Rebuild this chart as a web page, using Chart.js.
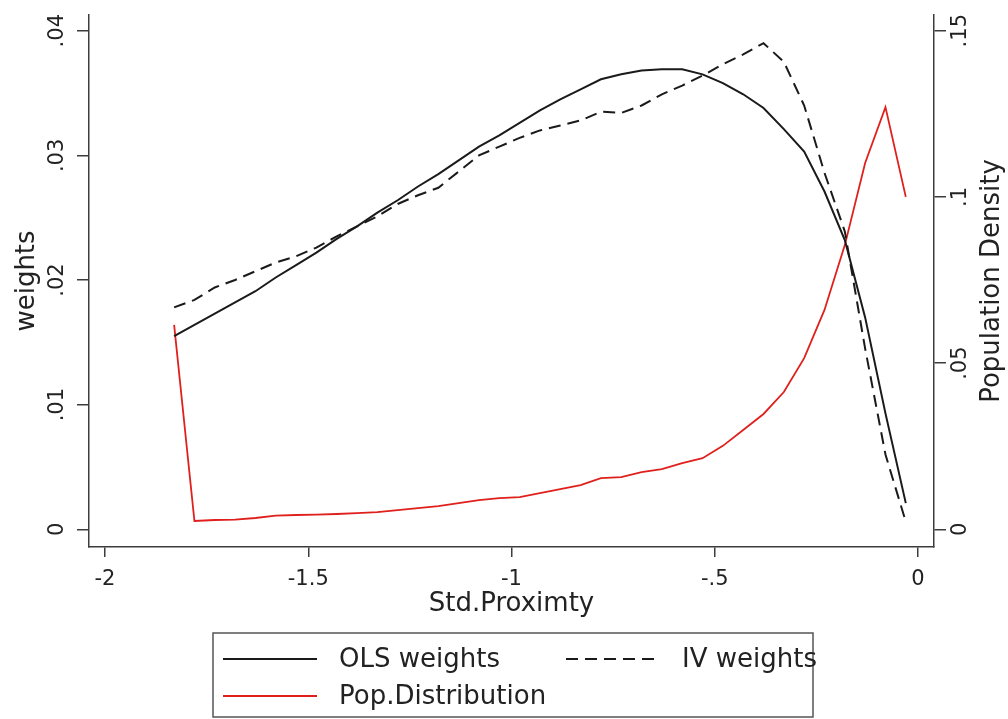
<!DOCTYPE html>
<html>
<head>
<meta charset="utf-8">
<script src="https://cdn.jsdelivr.net/npm/chart.js@4.4.1/dist/chart.umd.min.js"></script>
<style>
  html, body { margin: 0; padding: 0; background: #ffffff; }
  #wrap { width: 1008px; height: 719px; }
</style>
</head>
<body>
<div id="wrap"><canvas id="c" width="1008" height="719"></canvas></div>
<script>
// ---- data ----
const proximity = [-1.83,-1.78,-1.73,-1.68,-1.63,-1.58,-1.53,-1.48,-1.43,-1.38,-1.33,-1.28,-1.23,-1.18,-1.13,-1.08,-1.03,-0.98,-0.93,-0.88,-0.83,-0.78,-0.73,-0.68,-0.63,-0.58,-0.53,-0.48,-0.43,-0.38,-0.33,-0.28,-0.23,-0.18,-0.13,-0.08,-0.03];
const olsWeights = [0.0155,0.0164,0.0173,0.0182,0.0191,0.0202,0.0212,0.0222,0.0233,0.0243,0.0254,0.0264,0.0275,0.0285,0.0296,0.0307,0.0316,0.0326,0.0336,0.0345,0.0353,0.0361,0.0365,0.0368,0.0369,0.0369,0.0365,0.0358,0.0349,0.0338,0.0321,0.0303,0.0271,0.0232,0.0170,0.0093,0.0021];
const ivWeights = [0.0178,0.0184,0.0194,0.0200,0.0207,0.0214,0.0219,0.0226,0.0235,0.0243,0.0251,0.0261,0.0268,0.0274,0.0287,0.0300,0.0307,0.0314,0.0320,0.0324,0.0328,0.0335,0.0334,0.0340,0.0349,0.0356,0.0364,0.0373,0.0381,0.0390,0.0375,0.0340,0.0286,0.0239,0.0145,0.0060,0.0006];
const popDistribution = [0.0615,0.0025,0.0028,0.0029,0.0034,0.0041,0.0043,0.0044,0.0046,0.0049,0.0052,0.0058,0.0064,0.0070,0.0079,0.0088,0.0094,0.0097,0.0109,0.0121,0.0133,0.0154,0.0157,0.0172,0.0181,0.0199,0.0214,0.0251,0.0299,0.0347,0.0413,0.0515,0.0660,0.0855,0.1102,0.1270,0.1000];

const xTickValues = [-2, -1.5, -1, -0.5, 0];
const xTickLabels = ["-2", "-1.5", "-1", "-.5", "0"];
const leftTickValues = [0, 0.01, 0.02, 0.03, 0.04];
const leftTickLabels = ["0", ".01", ".02", ".03", ".04"];
const rightTickValues = [0, 0.05, 0.1, 0.15];
const rightTickLabels = ["0", ".05", ".1", ".15"];

const seriesNames = ["OLS weights", "IV weights", "Pop.Distribution"];
const xTitle = "Std.Proximty";
const leftTitle = "weights";
const rightTitle = "Population Density";

// ---- styling ----
const FONT = '"DejaVu Sans", Verdana, sans-serif';
const TEXT = '#222222';
const AXIS = '#3c3c3c';
const BLACK = '#1a1a1a';
const RED = '#e0201c';

function pts(ys) { return proximity.map((x, i) => ({ x: x, y: ys[i] })); }

const labelPlugin = {
  id: 'stataText',
  afterDraw(chart) {
    const ctx = chart.ctx;
    const sx = chart.scales.x, sl = chart.scales.y, sr = chart.scales.y1;
    const ca = chart.chartArea;
    ctx.save();
    ctx.fillStyle = TEXT;
    // x tick labels
    ctx.font = '21px ' + FONT;
    ctx.textAlign = 'center';
    ctx.textBaseline = 'alphabetic';
    xTickValues.forEach((v, i) => ctx.fillText(xTickLabels[i], sx.getPixelForValue(v), 585));
    // left / right tick labels (rotated)
    leftTickValues.forEach((v, i) => {
      ctx.save(); ctx.translate(63, sl.getPixelForValue(v)); ctx.rotate(-Math.PI / 2);
      ctx.fillText(leftTickLabels[i], 0, 0); ctx.restore();
    });
    rightTickValues.forEach((v, i) => {
      ctx.save(); ctx.translate(966, sr.getPixelForValue(v)); ctx.rotate(-Math.PI / 2);
      ctx.fillText(rightTickLabels[i], 0, 0); ctx.restore();
    });
    // axis titles
    ctx.font = '26px ' + FONT;
    ctx.fillText(xTitle, (ca.left + ca.right) / 2, 611);
    const midY = (ca.top + ca.bottom) / 2;
    ctx.save(); ctx.translate(34, midY); ctx.rotate(-Math.PI / 2); ctx.fillText(leftTitle, 0, 0); ctx.restore();
    ctx.save(); ctx.translate(999, midY); ctx.rotate(-Math.PI / 2); ctx.fillText(rightTitle, 0, 0); ctx.restore();

    // legend
    ctx.strokeStyle = '#555555';
    ctx.lineWidth = 1.5;
    ctx.strokeRect(213, 633, 600, 84);
    const ds = chart.data.datasets;
    const items = [
      { d: ds[0], x: 223, y: 659 },
      { d: ds[1], x: 566, y: 659 },
      { d: ds[2], x: 223, y: 696 }
    ];
    ctx.font = '26px ' + FONT;
    ctx.textAlign = 'left';
    ctx.textBaseline = 'middle';
    items.forEach(it => {
      ctx.save();
      ctx.strokeStyle = it.d.borderColor;
      ctx.lineWidth = it.d.borderWidth;
      ctx.setLineDash(it.d.borderDash || []);
      ctx.beginPath(); ctx.moveTo(it.x, it.y); ctx.lineTo(it.x + 94, it.y); ctx.stroke();
      ctx.restore();
      ctx.fillStyle = TEXT;
      ctx.fillText(it.d.label, it.x + 116, it.y + 1);
    });
    ctx.restore();
  }
};

function fixedTicks(values) {
  return function (scale) { scale.ticks = values.map(v => ({ value: v })); };
}

new Chart(document.getElementById('c'), {
  type: 'line',
  data: {
    datasets: [
      { label: seriesNames[0], data: pts(olsWeights), yAxisID: 'y', borderColor: BLACK, borderWidth: 2, pointRadius: 0, fill: false, tension: 0 },
      { label: seriesNames[1], data: pts(ivWeights), yAxisID: 'y', borderColor: BLACK, borderWidth: 2, borderDash: [12, 7], pointRadius: 0, fill: false, tension: 0 },
      { label: seriesNames[2], data: pts(popDistribution), yAxisID: 'y1', borderColor: RED, borderWidth: 1.8, pointRadius: 0, fill: false, tension: 0 }
    ]
  },
  options: {
    responsive: false,
    animation: false,
    devicePixelRatio: 1,
    layout: { padding: { top: 15, left: 0, right: 0, bottom: 0 } },
    plugins: { legend: { display: false }, tooltip: { enabled: false }, title: { display: false } },
    scales: {
      x: {
        type: 'linear', position: 'bottom', min: -2.0394, max: 0.0394,
        afterBuildTicks: fixedTicks(xTickValues),
        afterFit(s) { s.height = 172; },
        ticks: { display: false },
        border: { display: true, color: AXIS, width: 1.5 },
        grid: { display: true, drawOnChartArea: false, drawTicks: true, tickLength: 10, color: AXIS, lineWidth: 1.5 }
      },
      y: {
        type: 'linear', position: 'left', min: -0.00142, max: 0.04126,
        afterBuildTicks: fixedTicks(leftTickValues),
        afterFit(s) { s.width = 89; },
        ticks: { display: false },
        border: { display: true, color: AXIS, width: 1.5 },
        grid: { display: true, drawOnChartArea: false, drawTicks: true, tickLength: 12, color: AXIS, lineWidth: 1.5 }
      },
      y1: {
        type: 'linear', position: 'right', min: -0.00532, max: 0.15472,
        afterBuildTicks: fixedTicks(rightTickValues),
        afterFit(s) { s.width = 74; },
        ticks: { display: false },
        border: { display: true, color: AXIS, width: 1.5 },
        grid: { display: true, drawOnChartArea: false, drawTicks: true, tickLength: 12, color: AXIS, lineWidth: 1.5 }
      }
    }
  },
  plugins: [labelPlugin]
});
</script>
</body>
</html>
